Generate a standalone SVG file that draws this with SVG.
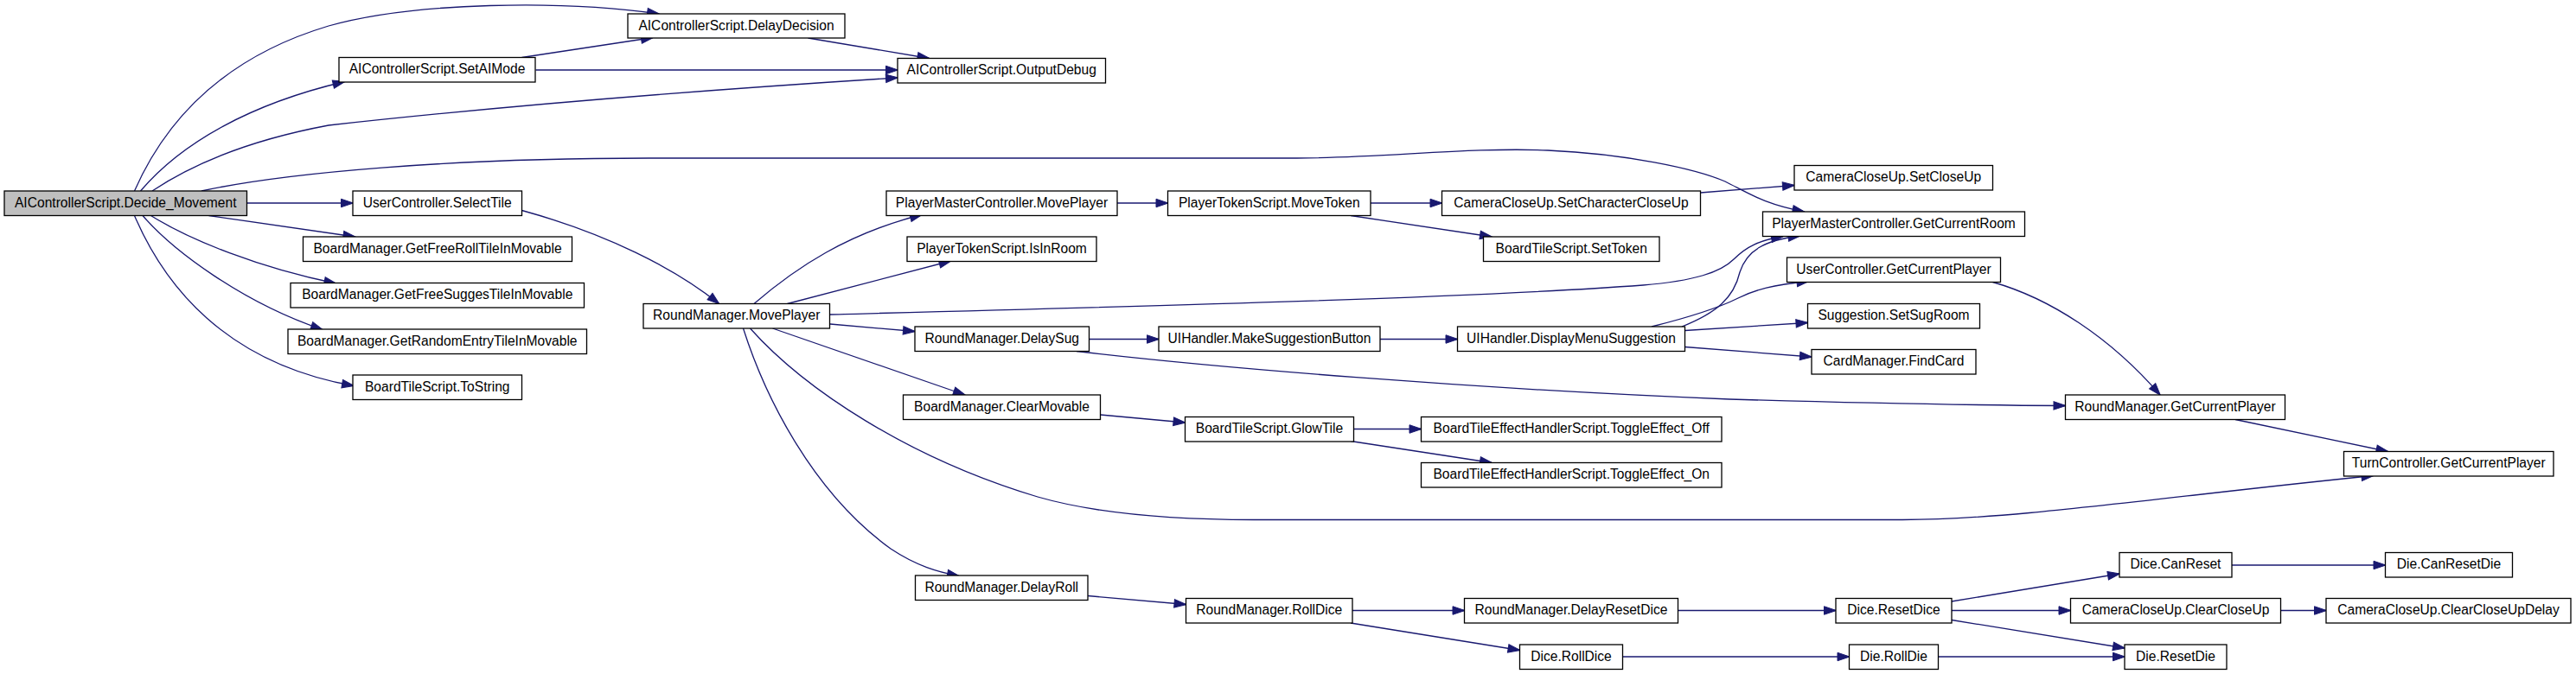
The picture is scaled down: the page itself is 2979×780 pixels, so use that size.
<svg xmlns="http://www.w3.org/2000/svg" width="2979" height="780" viewBox="0 0 2979 780">
<style>
.n rect{fill:#fff;stroke:#000;stroke-width:1.3}
.root rect{fill:#bfbfbf}
.n text{font-family:"Liberation Sans",Arial,sans-serif;font-size:15.6px;fill:#000;text-anchor:middle}
.e path{fill:none;stroke:#191970;stroke-width:1.3;marker-end:url(#ah)}
</style>
<defs>
<marker id="ah" markerUnits="userSpaceOnUse" markerWidth="14" markerHeight="10" viewBox="0 0 14 9.5" refX="13.5" refY="4.75" orient="auto" overflow="visible">
<path d="M0,0 L14,4.75 L0,9.5 z" fill="#191970" stroke="#191970" stroke-width="1"/>
</marker>
</defs>
<rect width="2979" height="780" fill="#fff"/>
<g id="edges" class="e">
<path d="M155.5,221 C200,120 280,60 380,30 C480,2 650,0 762,16"/>
<path d="M162.5,221 C210,165 290,120 398.5,94.5"/>
<path d="M176,221 C230,185 300,160 380,145 C560,125 800,105 1038,90"/>
<path d="M233,221 C330,200 520,183 750,183 L1500,183 C1600,183 1700,170 1790,174 C1880,178 1960,195 1995,210 C2025,225 2040,236 2086.5,245"/>
<path d="M285.5,235 L408,235"/>
<path d="M241.5,249.5 L410.5,274"/>
<path d="M174.5,249.5 C220,278 300,310 388.5,328"/>
<path d="M165,249.5 C200,290 280,350 373,381.5"/>
<path d="M155.5,249.5 C190,330 260,420 409,446.5"/>
<path d="M603.5,66.5 L755,43.5"/>
<path d="M619.5,81 L1038,81"/>
<path d="M934.5,44 L1074.5,67.5"/>
<path d="M603.5,243.5 C700,270 780,310 831.5,351.5"/>
<path d="M872,351.5 C920,310 980,270 1066,248.5"/>
<path d="M910.5,351.5 L1099.5,302"/>
<path d="M960,364 C1300,355 1700,345 1900,330 C1960,325 1990,315 2005,300 C2020,285 2035,278 2062,273.5"/>
<path d="M960,375 L1058,383.5"/>
<path d="M893.5,380 L1116,457"/>
<path d="M867.5,380 C930,450 1050,530 1200,575 C1280,598 1380,601.5 1450,601.5 L2200,601.5 C2330,601.5 2500,575 2744.5,550.5"/>
<path d="M859.5,380 C885,460 940,570 1030,635 C1060,655 1085,662 1109,666.5"/>
<path d="M1292,235 L1350.5,235"/>
<path d="M1585,235 L1667.5,235"/>
<path d="M1562,249.5 L1725,274"/>
<path d="M1966.5,223 L2075,214.5"/>
<path d="M1259.5,392.5 L1340,392.5"/>
<path d="M1245,406.5 C1400,425 1700,450 2000,462 C2200,468 2300,469 2388.5,469.5"/>
<path d="M1596,392.5 L1685.5,392.5"/>
<path d="M1910,378 C1950,368 1990,355 2010,345 C2030,335 2050,330 2091.5,325.5"/>
<path d="M1945,378 C1985,362 2005,345 2012,315 C2020,290 2040,278 2081.5,273"/>
<path d="M1948.5,382.5 L2090.5,373.5"/>
<path d="M1948.5,401.5 L2095,413"/>
<path d="M2304.5,326.5 C2370,345 2440,390 2498,457"/>
<path d="M2585,485.5 L2761.5,522.5"/>
<path d="M1272.5,480 L1370.5,489"/>
<path d="M1565.5,496.5 L1643.5,496.5"/>
<path d="M1562,510.5 L1725,535.5"/>
<path d="M1258,689.5 L1371.5,699.5"/>
<path d="M1564,706.5 L1693.5,706.5"/>
<path d="M1562,721 L1757.5,752.5"/>
<path d="M1940.5,706.5 L2123,706.5"/>
<path d="M1876.5,760 L2138.5,760"/>
<path d="M2257,696 L2451,664"/>
<path d="M2257,706.5 L2394.5,706.5"/>
<path d="M2257,717.5 L2457,750"/>
<path d="M2241.5,760 L2457,760"/>
<path d="M2581,654 L2758.5,654"/>
<path d="M2637.5,706.5 L2690,706.5"/>
</g>
<g id="n0" class="n root"><rect x="5" y="221" width="280.5" height="28.5"/><text x="145.25" y="239.5">AIControllerScript.Decide_Movement</text></g>
<g id="n1" class="n"><rect x="726" y="16" width="251" height="28"/><text x="851.5" y="34.5">AIControllerScript.DelayDecision</text></g>
<g id="n2" class="n"><rect x="392" y="66.5" width="227" height="28.5"/><text x="505.5" y="85">AIControllerScript.SetAIMode</text></g>
<g id="n3" class="n"><rect x="1038" y="67.5" width="240.5" height="28.5"/><text x="1158.25" y="86">AIControllerScript.OutputDebug</text></g>
<g id="n4" class="n"><rect x="408" y="221" width="195.5" height="28.5"/><text x="505.75" y="239.5">UserController.SelectTile</text></g>
<g id="n5" class="n"><rect x="350.5" y="274" width="311" height="28.5"/><text x="506" y="292.5">BoardManager.GetFreeRollTileInMovable</text></g>
<g id="n6" class="n"><rect x="336" y="327.5" width="339.5" height="28.5"/><text x="505.75" y="346">BoardManager.GetFreeSuggesTileInMovable</text></g>
<g id="n7" class="n"><rect x="333" y="381" width="345.5" height="28.5"/><text x="505.75" y="399.5">BoardManager.GetRandomEntryTileInMovable</text></g>
<g id="n8" class="n"><rect x="408" y="434" width="195.5" height="28.5"/><text x="505.75" y="452.5">BoardTileScript.ToString</text></g>
<g id="n9" class="n"><rect x="744" y="351.5" width="215.5" height="28.5"/><text x="851.75" y="370">RoundManager.MovePlayer</text></g>
<g id="n10" class="n"><rect x="1025" y="221" width="267" height="28.5"/><text x="1158.5" y="239.5">PlayerMasterController.MovePlayer</text></g>
<g id="n11" class="n"><rect x="1049" y="274" width="219" height="28.5"/><text x="1158.5" y="292.5">PlayerTokenScript.IsInRoom</text></g>
<g id="n12" class="n"><rect x="1058" y="378" width="201.5" height="28.5"/><text x="1158.75" y="396.5">RoundManager.DelaySug</text></g>
<g id="n13" class="n"><rect x="1044.5" y="457" width="228" height="28.5"/><text x="1158.5" y="475.5">BoardManager.ClearMovable</text></g>
<g id="n14" class="n"><rect x="1058.5" y="666" width="199.5" height="28.5"/><text x="1158.25" y="684.5">RoundManager.DelayRoll</text></g>
<g id="n15" class="n"><rect x="1350.5" y="221" width="234.5" height="28.5"/><text x="1467.75" y="239.5">PlayerTokenScript.MoveToken</text></g>
<g id="n16" class="n"><rect x="1340" y="378" width="256" height="28.5"/><text x="1468" y="396.5">UIHandler.MakeSuggestionButton</text></g>
<g id="n17" class="n"><rect x="1370.5" y="482.5" width="195" height="28.5"/><text x="1468" y="501">BoardTileScript.GlowTile</text></g>
<g id="n18" class="n"><rect x="1371.5" y="692.5" width="192.5" height="28.5"/><text x="1467.75" y="711">RoundManager.RollDice</text></g>
<g id="n19" class="n"><rect x="1667.5" y="221" width="299" height="28.5"/><text x="1817" y="239.5">CameraCloseUp.SetCharacterCloseUp</text></g>
<g id="n20" class="n"><rect x="1715.5" y="274" width="203.5" height="28.5"/><text x="1817.25" y="292.5">BoardTileScript.SetToken</text></g>
<g id="n21" class="n"><rect x="1685.5" y="378" width="263" height="28.5"/><text x="1817" y="396.5">UIHandler.DisplayMenuSuggestion</text></g>
<g id="n22" class="n"><rect x="1643.5" y="482.5" width="347.5" height="28.5"/><text x="1817.25" y="501">BoardTileEffectHandlerScript.ToggleEffect_Off</text></g>
<g id="n23" class="n"><rect x="1643.5" y="535.5" width="347.5" height="28.5"/><text x="1817.25" y="554">BoardTileEffectHandlerScript.ToggleEffect_On</text></g>
<g id="n24" class="n"><rect x="1693.5" y="692.5" width="247" height="28.5"/><text x="1817" y="711">RoundManager.DelayResetDice</text></g>
<g id="n25" class="n"><rect x="1757.5" y="746" width="119" height="28.5"/><text x="1817" y="764.5">Dice.RollDice</text></g>
<g id="n26" class="n"><rect x="2075" y="191.5" width="229.5" height="28.5"/><text x="2189.75" y="210">CameraCloseUp.SetCloseUp</text></g>
<g id="n27" class="n"><rect x="2038.5" y="245" width="303" height="28.5"/><text x="2190" y="263.5">PlayerMasterController.GetCurrentRoom</text></g>
<g id="n28" class="n"><rect x="2066.5" y="298" width="247" height="28.5"/><text x="2190" y="316.5">UserController.GetCurrentPlayer</text></g>
<g id="n29" class="n"><rect x="2090.5" y="351.5" width="199" height="28.5"/><text x="2190" y="370">Suggestion.SetSugRoom</text></g>
<g id="n30" class="n"><rect x="2095" y="404.5" width="190" height="28.5"/><text x="2190" y="423">CardManager.FindCard</text></g>
<g id="n31" class="n"><rect x="2388.5" y="457" width="254" height="28.5"/><text x="2515.5" y="475.5">RoundManager.GetCurrentPlayer</text></g>
<g id="n32" class="n"><rect x="2710.5" y="522.5" width="242.5" height="28.5"/><text x="2831.75" y="541">TurnController.GetCurrentPlayer</text></g>
<g id="n33" class="n"><rect x="2123" y="692.5" width="134" height="28.5"/><text x="2190" y="711">Dice.ResetDice</text></g>
<g id="n34" class="n"><rect x="2138.5" y="746" width="103" height="28.5"/><text x="2190" y="764.5">Die.RollDie</text></g>
<g id="n35" class="n"><rect x="2451" y="639.5" width="130" height="28.5"/><text x="2516" y="658">Dice.CanReset</text></g>
<g id="n36" class="n"><rect x="2394.5" y="692.5" width="243" height="28.5"/><text x="2516" y="711">CameraCloseUp.ClearCloseUp</text></g>
<g id="n37" class="n"><rect x="2457" y="746" width="118" height="28.5"/><text x="2516" y="764.5">Die.ResetDie</text></g>
<g id="n38" class="n"><rect x="2758.5" y="639.5" width="147" height="28.5"/><text x="2832" y="658">Die.CanResetDie</text></g>
<g id="n39" class="n"><rect x="2690" y="692.5" width="283" height="28.5"/><text x="2831.5" y="711">CameraCloseUp.ClearCloseUpDelay</text></g>
</svg>
